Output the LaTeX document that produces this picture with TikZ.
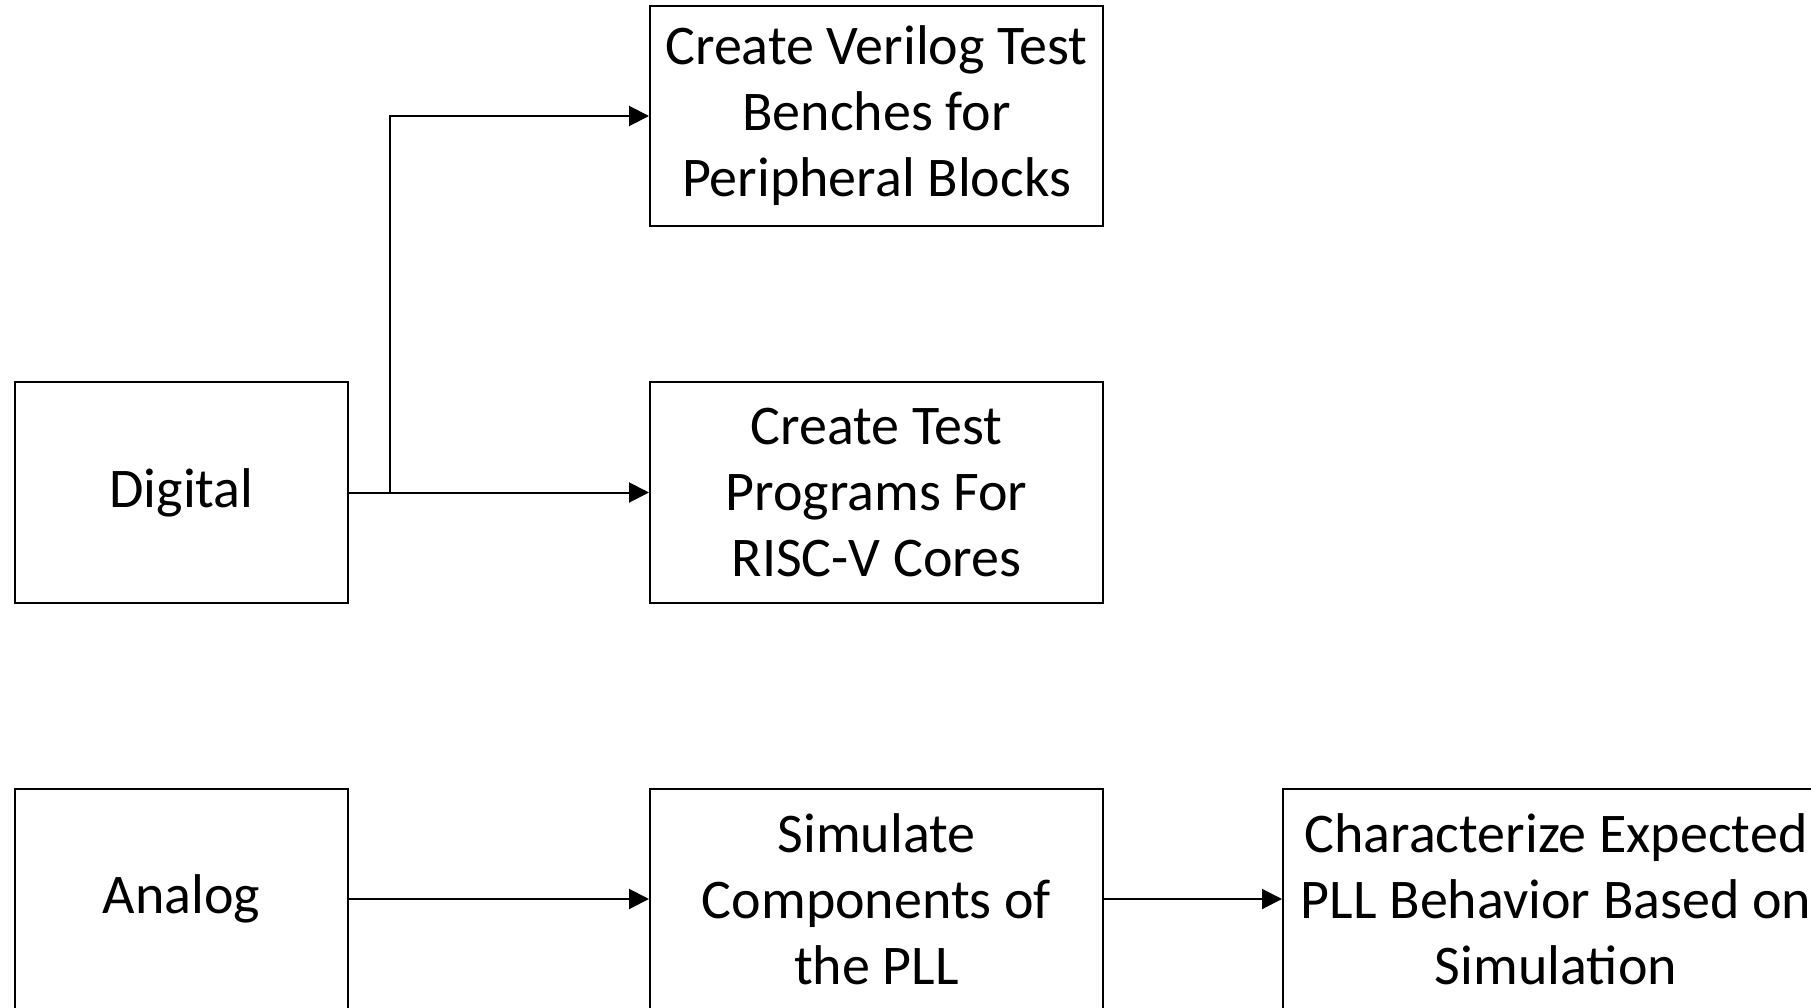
\documentclass[tikz,border=0pt]{standalone}
\usepackage{fontspec}
\setmainfont{Carlito}
\usetikzlibrary{arrows.meta}
\begin{document}
\begin{tikzpicture}[x=1pt,y=-1pt,
  box/.style={draw=black,line width=2pt,rectangle,inner sep=0pt,align=center,
    font=\fontsize{56}{66}\selectfont},
  link/.style={draw=black,line width=2pt,-{Triangle[length=20pt,width=20pt]}}]
  \useasboundingbox (0,0) rectangle (1811,1008);
  \clip (0,0) rectangle (1811,1008);
  \fill[white] (0,0) rectangle (1811,1008);
  % digital branch
  \node[box,minimum width=333pt,minimum height=221pt] (dig) at (181.5,492.5) {Digital};
  \node[box,minimum width=453pt,minimum height=220pt] (tb) at (876.5,116) {Create Verilog Test\\Benches for\\Peripheral Blocks};
  \node[box,minimum width=453pt,minimum height=221pt] (tp) at (876.5,492.5) {Create Test\\Programs For\\RISC-V Cores};
  % analog branch
  \node[box,minimum width=333pt,minimum height=220pt] (ana) at (181.5,899) {Analog};
  \node[box,minimum width=453pt,minimum height=220pt] (sim) at (876.5,899) {Simulate\\Components of\\the PLL};
  \node[box,minimum width=546pt,minimum height=220pt] (chr) at (1556,899) {Characterize Expected\\PLL Behavior Based on\\Simulation};
  % connectors
  \coordinate (split) at ([xshift=41pt]dig.east);
  \draw[link] (dig.east) -- (tp.west);
  \draw[link] (dig.east) -- (split) |- (tb.west);
  \draw[link] (ana.east) -- (sim.west);
  \draw[link] (sim.east) -- (chr.west);
\end{tikzpicture}
\end{document}
